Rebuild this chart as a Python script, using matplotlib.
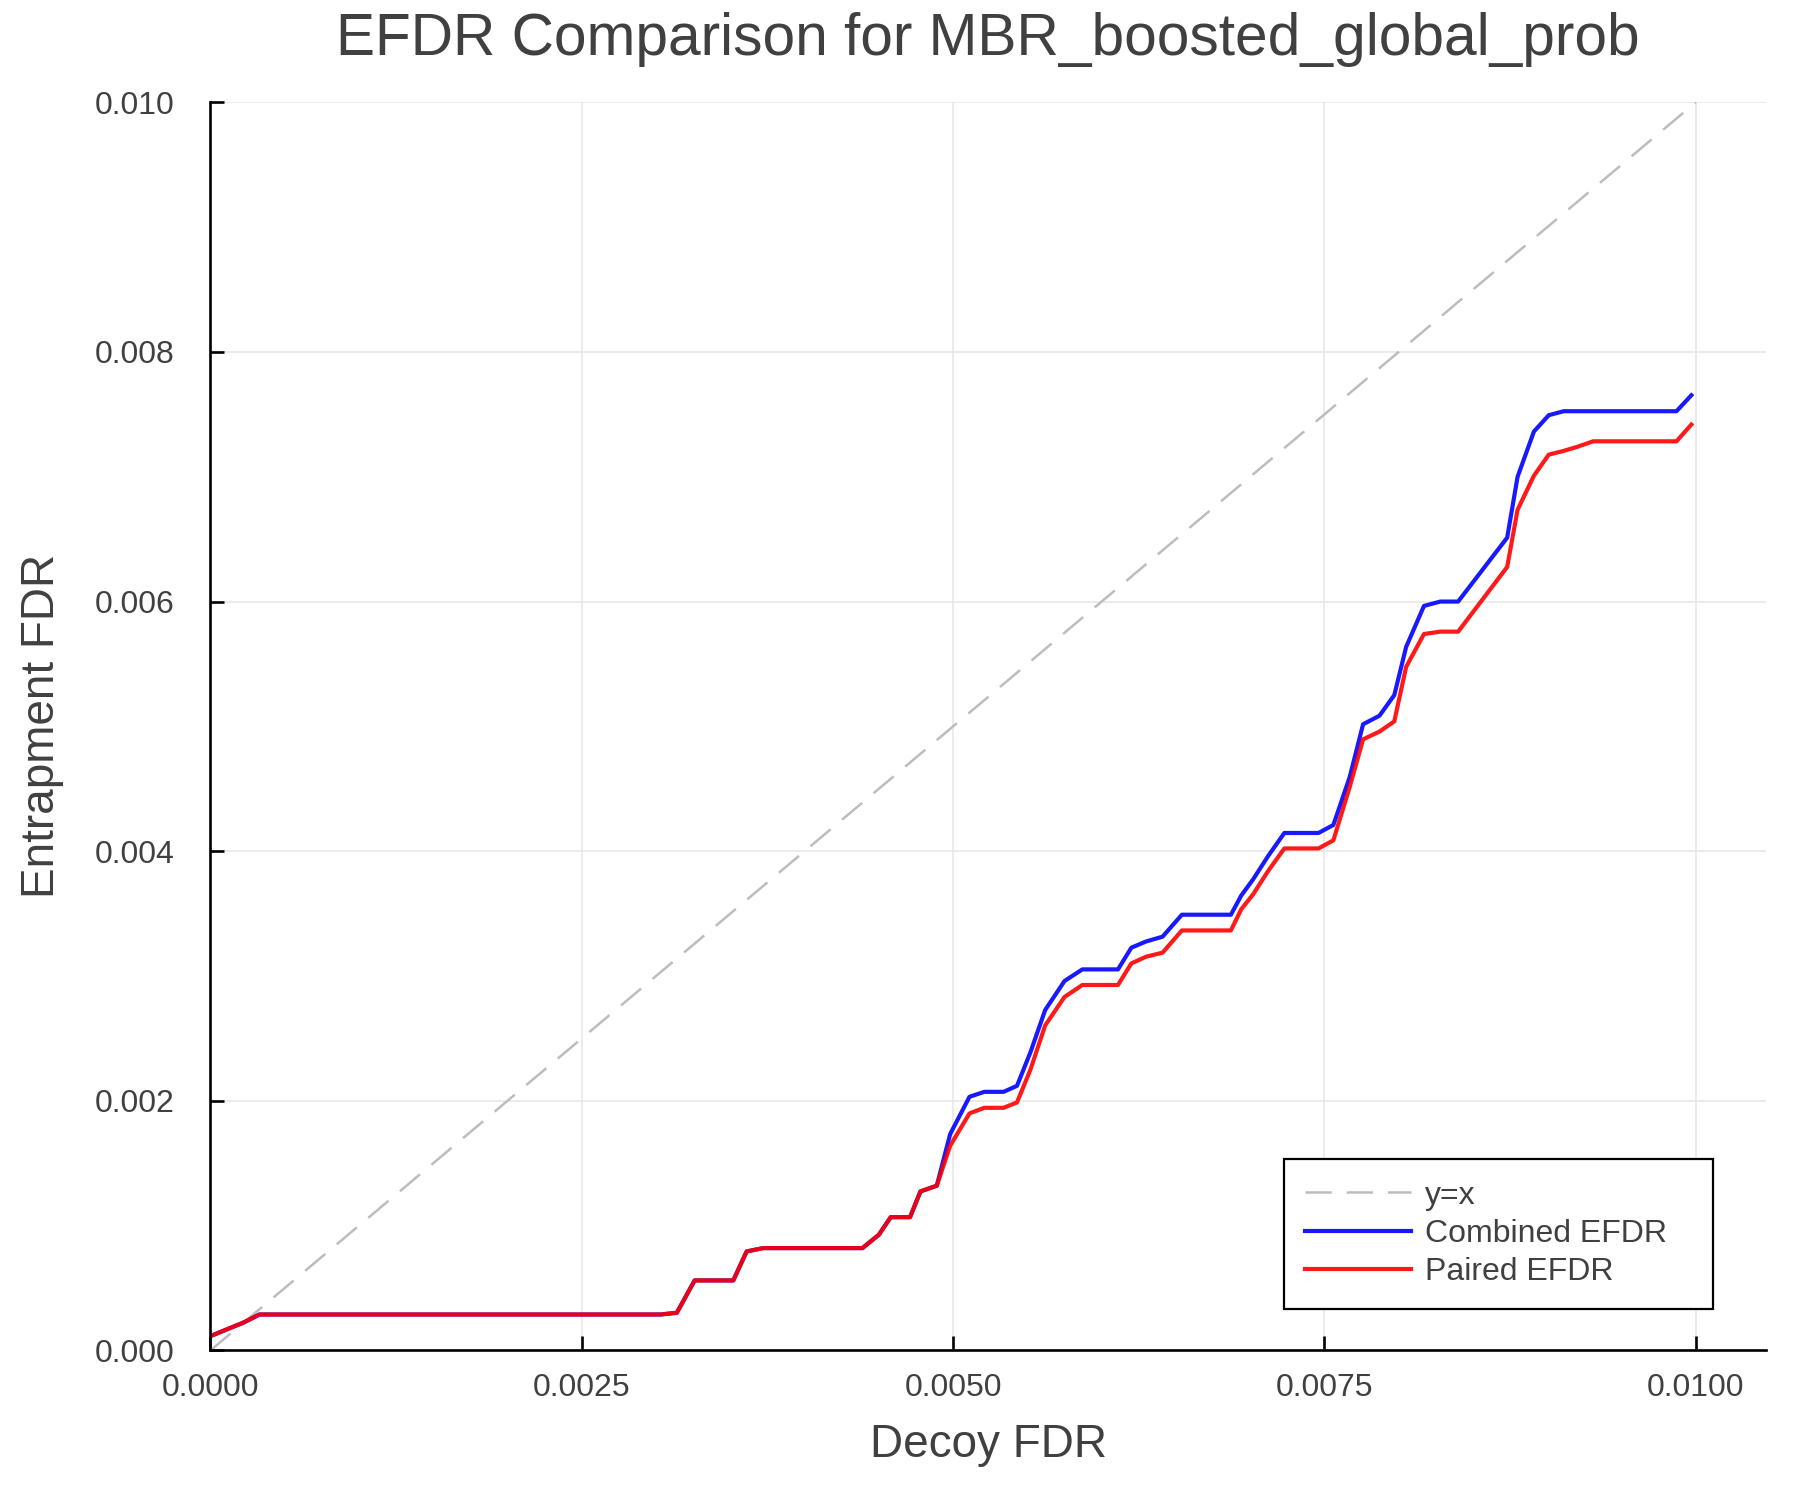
import matplotlib
matplotlib.use("Agg")
import matplotlib.pyplot as plt
from matplotlib.ticker import FormatStrFormatter

# ---- data ----
decoy_fdr = [0.0, 0.00022, 0.00033, 0.00303, 0.00314, 0.00326, 0.00352, 0.00361, 0.00372,
             0.00439, 0.00450, 0.00458, 0.00471, 0.00478, 0.00489, 0.00498, 0.00511, 0.00521,
             0.00534, 0.00543, 0.00552, 0.00562, 0.00575, 0.00587, 0.00611, 0.00620, 0.00630,
             0.00641, 0.00654, 0.00687, 0.00694, 0.00702, 0.00712, 0.00723, 0.00746, 0.00756,
             0.00767, 0.00776, 0.00787, 0.00797, 0.00805, 0.00817, 0.00828, 0.00840, 0.00873,
             0.00880, 0.00891, 0.00901, 0.00911, 0.00920, 0.00931, 0.00987, 0.00997]

combined_efdr = [0.000115, 0.000222, 0.000288, 0.000288, 0.000302, 0.000561, 0.000561, 0.000793,
                 0.00082, 0.00082, 0.000927, 0.001068, 0.001068, 0.001274, 0.00132, 0.001733,
                 0.002032, 0.002072, 0.002072, 0.00212, 0.002387, 0.002728, 0.00296, 0.003053,
                 0.003053, 0.003227, 0.003277, 0.003315, 0.003491, 0.003491, 0.003645, 0.003775,
                 0.00396, 0.004146, 0.004146, 0.00421, 0.004594, 0.005017, 0.005085, 0.00525,
                 0.005637, 0.005965, 0.006, 0.006, 0.006512, 0.006999, 0.007362, 0.007493,
                 0.007525, 0.007525, 0.007525, 0.007525, 0.007653]

paired_efdr = [0.000115, 0.000222, 0.000288, 0.000288, 0.000302, 0.000561, 0.000561, 0.000793,
               0.00082, 0.00082, 0.000927, 0.001068, 0.001068, 0.001274, 0.00132, 0.00164,
               0.001899, 0.001944, 0.001944, 0.001987, 0.002248, 0.002605, 0.002832, 0.002928,
               0.002928, 0.003101, 0.003155, 0.003187, 0.003365, 0.003365, 0.003535, 0.003655,
               0.00384, 0.004022, 0.004022, 0.004087, 0.004514, 0.004896, 0.004958, 0.00504,
               0.005477, 0.00574, 0.005759, 0.005759, 0.006277, 0.006735, 0.007008, 0.007177,
               0.007207, 0.007239, 0.007284, 0.007284, 0.007418]

diag = [0.0, 0.01]
x_ticks = [0.0, 0.0025, 0.005, 0.0075, 0.01]
y_ticks = [0.0, 0.002, 0.004, 0.006, 0.008, 0.01]

title = "EFDR Comparison for MBR_boosted_global_prob"
xlabel = "Decoy FDR"
ylabel = "Entrapment FDR"
labels = ["y=x", "Combined EFDR", "Paired EFDR"]

# ---- style ----
plt.rcParams['font.family'] = ['Liberation Sans', 'DejaVu Sans']
text_color = "#404040"

fig = plt.figure(figsize=(18, 15), dpi=100)
ax = fig.add_axes([0.1169, 0.0997, 0.9809 - 0.1169, 0.9318 - 0.0997])

ax.plot(diag, diag, color="#bdbdbd", lw=1.8, linestyle=(0, (10.5, 6)), label=labels[0])
ax.plot(decoy_fdr, combined_efdr, color="blue", alpha=0.9, lw=3.0, label=labels[1])
ax.plot(decoy_fdr, paired_efdr, color="red", alpha=0.9, lw=3.0, label=labels[2])

ax.set_xlim(0, 0.01047)
ax.set_ylim(0, 0.01)
ax.set_xticks(x_ticks)
ax.set_yticks(y_ticks)
ax.xaxis.set_major_formatter(FormatStrFormatter('%.4f'))
ax.yaxis.set_major_formatter(FormatStrFormatter('%.3f'))

ax.grid(True, color="#e6e6e6", lw=1.1)
ax.set_axisbelow(True)
for s in ["top", "right"]:
    ax.spines[s].set_visible(False)
for s in ["left", "bottom"]:
    ax.spines[s].set_linewidth(1.9)
    ax.spines[s].set_color("black")

ax.tick_params(axis='both', direction='in', length=10, width=1.9, colors='black',
               labelcolor=text_color, labelsize=23)
ax.tick_params(axis='x', pad=16)
ax.tick_params(axis='y', pad=26)

ax.set_title(title, fontsize=42.2, color=text_color, pad=34)
ax.set_xlabel(xlabel, fontsize=33, color=text_color)
ax.set_ylabel(ylabel, fontsize=33, color=text_color)
ax.xaxis.set_label_coords(0.5, -0.058)
ax.yaxis.set_label_coords(-0.094, 0.5)

leg = ax.legend(loc='lower left', bbox_to_anchor=(0.690, 0.0333, 0.276, 0.12),
                mode='expand', borderaxespad=0,
                fontsize=23, handlelength=3.3, handletextpad=0.45, labelspacing=0.26,
                borderpad=0.68, fancybox=False, framealpha=1, edgecolor='black')
leg.get_frame().set_linewidth(1.6)
for t in leg.get_texts():
    t.set_color(text_color)

fig.savefig("out.png", dpi=100)
